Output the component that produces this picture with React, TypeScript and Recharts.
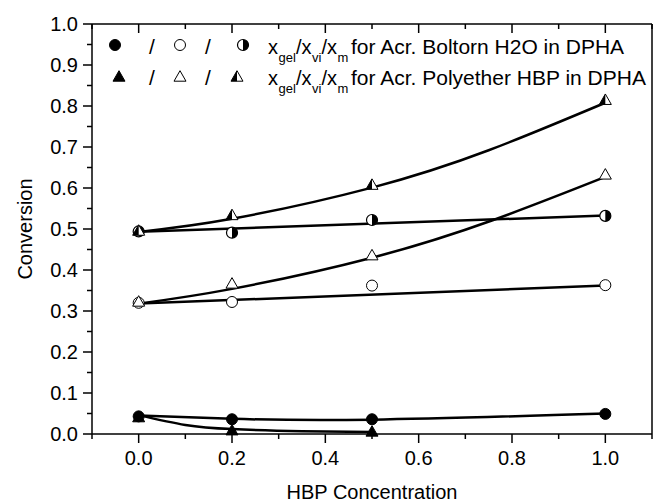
import { ComposedChart, Line, Scatter, XAxis, YAxis } from "recharts"

// measured points (HBP concentration vs conversion)
const concAll = [0, 0.2, 0.5, 1.0]
const concPolyGel = [0, 0.2, 0.5]

const boltornGel = [0.043, 0.036, 0.036, 0.049]
const boltornVi = [0.32, 0.322, 0.362, 0.363]
const boltornM = [0.494, 0.491, 0.522, 0.532]

const polyGel = [0.04, 0.008, 0.005]
const polyVi = [0.322, 0.366, 0.435, 0.632]
const polyM = [0.495, 0.533, 0.607, 0.814]

// fitted curves
const fitBoltornGelX = [0, 0.2, 0.5, 1.0]
const fitBoltornGel = [0.045, 0.037, 0.035, 0.05]
const fitBoltornViX = [0, 1.0]
const fitBoltornVi = [0.318, 0.362]
const fitBoltornMX = [0, 1.0]
const fitBoltornM = [0.493, 0.533]
const fitPolyGelX = [0, 0.1, 0.2, 0.35, 0.5]
const fitPolyGel = [0.046, 0.022, 0.012, 0.007, 0.005]
const fitPolyViX = [0, 0.2, 0.5, 0.76, 1.0]
const fitPolyVi = [0.318, 0.354, 0.43, 0.522, 0.627]
const fitPolyMX = [0, 0.2, 0.5, 0.75, 1.0]
const fitPolyM = [0.493, 0.525, 0.601, 0.692, 0.808]

const xTicks = [-0.1, 0, 0.1, 0.2, 0.3, 0.4, 0.5, 0.6, 0.7, 0.8, 0.9, 1.0, 1.1]
const xLabels = ["0.0", "0.2", "0.4", "0.6", "0.8", "1.0"]
const yTicks = [0, 0.05, 0.1, 0.15, 0.2, 0.25, 0.3, 0.35, 0.4, 0.45, 0.5, 0.55, 0.6, 0.65, 0.7, 0.75, 0.8, 0.85, 0.9, 0.95, 1.0]

const pts = (xs: number[], ys: number[]) => xs.map((x, i) => ({ x, y: ys[i] }))

const FONT = "'Liberation Sans', Arial, sans-serif"

const isMajorX = (v: number) => Math.abs(Math.round(v * 10) % 2) === 0
const isMajorY = (v: number) => Math.abs(Math.round(v * 100) % 10) === 0

const BottomTick = ({ x, y, payload }: any) => {
  const major = isMajorX(payload.value)
  const label = payload.value.toFixed(1)
  return (
    <g>
      <line x1={x} x2={x} y1={y} y2={y + (major ? 9 : 5)} stroke="#000" strokeWidth={1.5} />
      {major && xLabels.includes(label) && (
        <text x={x} y={y + 31} textAnchor="middle" fontSize={20} fontFamily={FONT} fill="#000">
          {label}
        </text>
      )}
    </g>
  )
}

const TopTick = ({ x, y, payload }: any) => (
  <line x1={x} x2={x} y1={y} y2={y + (isMajorX(payload.value) ? 9 : 5)} stroke="#000" strokeWidth={1.5} />
)

const LeftTick = ({ x, y, payload }: any) => {
  const major = isMajorY(payload.value)
  return (
    <g>
      <line x1={x - (major ? 9 : 5)} x2={x} y1={y} y2={y} stroke="#000" strokeWidth={1.5} />
      {major && (
        <text x={x - 14} y={y} dy="0.36em" textAnchor="end" fontSize={20} fontFamily={FONT} fill="#000">
          {payload.value.toFixed(1)}
        </text>
      )}
    </g>
  )
}

const RightTick = ({ x, y, payload }: any) => (
  <line x1={x - (isMajorY(payload.value) ? 9 : 5)} x2={x} y1={y} y2={y} stroke="#000" strokeWidth={1.5} />
)

const R = 5.5

const FullCircle = ({ cx, cy }: any) => <circle cx={cx} cy={cy} r={R} fill="#000" stroke="#000" strokeWidth={1} />
const OpenCircle = ({ cx, cy }: any) => <circle cx={cx} cy={cy} r={R} fill="#fff" stroke="#000" strokeWidth={1} />
const HalfCircle = ({ cx, cy }: any) => (
  <g>
    <circle cx={cx} cy={cy} r={R} fill="#fff" stroke="#000" strokeWidth={1.2} />
    <path d={`M${cx},${cy - R} A${R},${R} 0 0 1 ${cx},${cy + R} Z`} fill="#000" />
  </g>
)

const triPts = (cx: number, cy: number, s: number) =>
  `${cx},${cy - s * 1.05} ${cx + s},${cy + s * 0.7} ${cx - s},${cy + s * 0.7}`

const FullTri = ({ cx, cy }: any) => <polygon points={triPts(cx, cy, 6)} fill="#000" stroke="#000" strokeWidth={1} />
const OpenTri = ({ cx, cy }: any) => <polygon points={triPts(cx, cy, 6)} fill="#fff" stroke="#000" strokeWidth={1} />
const HalfTri = ({ cx, cy }: any) => (
  <g>
    <polygon points={triPts(cx, cy, 6)} fill="#fff" stroke="#000" strokeWidth={1} />
    <polygon points={`${cx},${cy - 6.3} ${cx},${cy + 4.2} ${cx - 6},${cy + 4.2}`} fill="#000" />
  </g>
)

const Legend = () => {
  const rows = [
    { y: 54, my: 45, text: "for Acr. Boltorn H2O in DPHA", shapes: [FullCircle, OpenCircle, HalfCircle], xs: [115, 180, 243] },
    { y: 85, my: 77, text: "for Acr. Polyether HBP in DPHA", shapes: [FullTri, OpenTri, HalfTri], xs: [119, 180, 237] },
  ]
  return (
    <svg width={658} height={503} style={{ position: "absolute", left: 0, top: 0, pointerEvents: "none" }}>
      {rows.map((r, i) => (
        <g key={i} fontFamily={FONT} fill="#000">
          {r.shapes.map((S, j) => (
            <S key={j} cx={r.xs[j]} cy={r.my} />
          ))}
          <text x={152} y={r.y} fontSize={21} textAnchor="middle">/</text>
          <text x={208} y={r.y} fontSize={21} textAnchor="middle">/</text>
          <text x={268} y={r.y} fontSize={20}>x</text>
          <text x={278.5} y={r.y + 8} fontSize={13}>gel</text>
          <text x={296} y={r.y} fontSize={20}>/x</text>
          <text x={312} y={r.y + 8} fontSize={13}>vi</text>
          <text x={321.5} y={r.y} fontSize={20}>/x</text>
          <text x={337.5} y={r.y + 8} fontSize={13}>m</text>
          <text x={351} y={r.y} fontSize={21}>{r.text}</text>
        </g>
      ))}
    </svg>
  )
}

const fitLine = (key: string, xs: number[], ys: number[]) => (
  <Line
    key={key}
    data={pts(xs, ys)}
    dataKey="y"
    type="natural"
    stroke="#000"
    strokeWidth={2.5}
    dot={false}
    activeDot={false}
    isAnimationActive={false}
  />
)

export default function App() {
  return (
    <div style={{ position: "absolute", left: 0, top: 0, width: 658, height: 503, background: "#fff" }}>
      <ComposedChart width={658} height={503} margin={{ top: 23, right: 5, bottom: 0, left: 0 }} style={{ fontFamily: FONT }}>
        <XAxis
          xAxisId={0}
          type="number"
          dataKey="x"
          domain={[-0.1, 1.1]}
          ticks={xTicks}
          interval={0}
          allowDataOverflow
          height={69}
          tickSize={0}
          tickMargin={0}
          tick={<BottomTick />}
          axisLine={{ stroke: "#000", strokeWidth: 1.5 }}
          label={{ value: "HBP Concentration", position: "insideBottom", offset: 4, fontSize: 20, fill: "#000" }}
        />
        <XAxis
          xAxisId="top"
          orientation="top"
          type="number"
          dataKey="x"
          domain={[-0.1, 1.1]}
          ticks={xTicks}
          interval={0}
          allowDataOverflow
          height={1}
          tickSize={0}
          tickMargin={0}
          tick={<TopTick />}
          axisLine={{ stroke: "#000", strokeWidth: 1.5 }}
        />
        <YAxis
          yAxisId={0}
          type="number"
          domain={[0, 1]}
          ticks={yTicks}
          interval={0}
          width={92}
          tickSize={0}
          tickMargin={0}
          tick={<LeftTick />}
          axisLine={{ stroke: "#000", strokeWidth: 1.5 }}
          label={{ value: "Conversion", angle: -90, position: "center", dx: -21, fontSize: 20, fill: "#000" }}
        />
        <YAxis
          yAxisId="right"
          orientation="right"
          type="number"
          domain={[0, 1]}
          ticks={yTicks}
          interval={0}
          width={1}
          tickSize={0}
          tickMargin={0}
          tick={<RightTick />}
          axisLine={{ stroke: "#000", strokeWidth: 1.5 }}
        />
        {fitLine("fbg", fitBoltornGelX, fitBoltornGel)}
        {fitLine("fbv", fitBoltornViX, fitBoltornVi)}
        {fitLine("fbm", fitBoltornMX, fitBoltornM)}
        {fitLine("fpg", fitPolyGelX, fitPolyGel)}
        {fitLine("fpv", fitPolyViX, fitPolyVi)}
        {fitLine("fpm", fitPolyMX, fitPolyM)}
        <Scatter data={pts(concAll, boltornGel)} dataKey="y" shape={<FullCircle />} isAnimationActive={false} />
        <Scatter data={pts(concPolyGel, polyGel)} dataKey="y" shape={<FullTri />} isAnimationActive={false} />
        <Scatter data={pts(concAll, boltornVi)} dataKey="y" shape={<OpenCircle />} isAnimationActive={false} />
        <Scatter data={pts(concAll, polyVi)} dataKey="y" shape={<OpenTri />} isAnimationActive={false} />
        <Scatter data={pts(concAll, boltornM)} dataKey="y" shape={<HalfCircle />} isAnimationActive={false} />
        <Scatter data={pts(concAll, polyM)} dataKey="y" shape={<HalfTri />} isAnimationActive={false} />
      </ComposedChart>
      <Legend />
    </div>
  )
}
